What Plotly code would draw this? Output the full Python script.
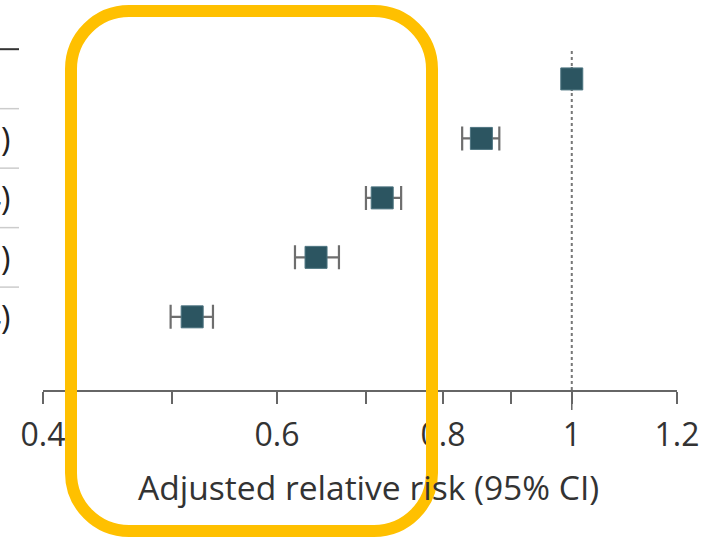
import math
import plotly.graph_objects as go

# ---- data ----
rows = [0, 1, 2, 3, 4]
rr = [1.0, 0.855, 0.72, 0.642, 0.518]
ci_low = [None, 0.827, 0.700, 0.619, 0.499]
ci_high = [None, 0.882, 0.744, 0.668, 0.537]
tick_vals = [0.4, 0.5, 0.6, 0.7, 0.8, 0.9, 1.0, 1.2]
tick_text = ["0.4", "", "0.6", "", "0.8", "", "1", "1.2"]
x_title = "Adjusted relative risk (95% CI)"

FONT = "Open Sans"
W, H = 705, 540
# plot area in page pixels
PL, PR, PT, PB = 43, 677, 48, 390
L, T, R, B = PL, PT, W - PR, H - PB
PW, PH = PR - PL, PB - PT

def px(xp):
    return (xp - PL) / PW

def py(yp):
    return (PB - yp) / PH

err_plus = [0 if lo is None else hi - v for v, lo, hi in zip(rr, ci_low, ci_high)]
err_minus = [0 if lo is None else v - lo for v, lo, hi in zip(rr, ci_low, ci_high)]
labels = []
for v, lo, hi in zip(rr, ci_low, ci_high):
    if lo is None:
        labels.append("1 [Reference]")
    else:
        labels.append(f"{v:.2f} ({lo:.2f}-{hi:.2f})")

fig = go.Figure()
fig.add_trace(go.Scatter(
    x=rr, y=rows, mode="markers",
    marker=dict(symbol="square", size=22, color="#2c5561",
                line=dict(color="#4d7480", width=1)),
    error_x=dict(type="data", symmetric=False, array=err_plus, arrayminus=err_minus,
                 color="#6e6e6e", thickness=2.2, width=12),
    hoverinfo="skip", showlegend=False, cliponaxis=False,
))

shapes = []
shapes.append(dict(type="line", xref="x", yref="paper", x0=1, x1=1, y0=0, y1=1,
                   line=dict(color="#777777", width=2, dash="dot"), layer="below"))
shapes.append(dict(type="line", xref="x", yref="paper", x0=1, x1=1, y0=0, y1=py(410),
                   line=dict(color="#666666", width=1.5)))
shapes.append(dict(type="line", xref="paper", yref="y", x0=px(-5), x1=px(19), y0=-0.5, y1=-0.5,
                   line=dict(color="#333333", width=2)))
for r in rows[:-1]:
    shapes.append(dict(type="line", xref="paper", yref="y", x0=px(-5), x1=px(19),
                       y0=r + 0.5, y1=r + 0.5, line=dict(color="#cccccc", width=1.5)))

# yellow rounded highlight box
x0, x1, y0, y1, rad = 71, 432, 11, 531, 58
k = 0.5523 * rad
def P(a, b):
    return f"{px(a):.5f},{py(b):.5f}"
path = (
    f"M {P(x0 + rad, y0)} L {P(x1 - rad, y0)} "
    f"C {P(x1 - rad + k, y0)} {P(x1, y0 + rad - k)} {P(x1, y0 + rad)} "
    f"L {P(x1, y1 - rad)} "
    f"C {P(x1, y1 - rad + k)} {P(x1 - rad + k, y1)} {P(x1 - rad, y1)} "
    f"L {P(x0 + rad, y1)} "
    f"C {P(x0 + rad - k, y1)} {P(x0, y1 - rad + k)} {P(x0, y1 - rad)} "
    f"L {P(x0, y0 + rad)} "
    f"C {P(x0, y0 + rad - k)} {P(x0 + rad - k, y0)} {P(x0 + rad, y0)} Z"
)
shapes.append(dict(type="path", xref="paper", yref="paper", path=path,
                   line=dict(color="#ffc000", width=12), fillcolor="rgba(0,0,0,0)", layer="above"))

annotations = []
for r, lab in zip(rows, labels):
    if r == 0:
        continue
    annotations.append(dict(x=px(11.5), y=r, xref="paper", yref="y", text=lab, showarrow=False,
                            xanchor="right", yanchor="middle",
                            font=dict(family=FONT, size=32, color="#222222")))
annotations.append(dict(x=px(368), y=py(487), xref="paper", yref="paper", text=x_title,
                        showarrow=False, xanchor="center", yanchor="middle",
                        font=dict(family=FONT, size=33.6, color="#333333")))

fig.update_layout(
    template="none",
    width=W, height=H, margin=dict(l=L, r=R, t=T, b=B, pad=0, autoexpand=False),
    paper_bgcolor="white", plot_bgcolor="white",
    xaxis=dict(type="log", range=[math.log10(0.4), math.log10(1.2)], automargin=False,
               tickvals=tick_vals, ticktext=tick_text, ticks="outside", ticklen=12,
               tickwidth=1.5, tickcolor="#666666", showline=True, linecolor="#666666",
               linewidth=1.5, showgrid=False, zeroline=False, ticklabelstandoff=4,
               tickfont=dict(family=FONT, size=32, color="#333333")),
    yaxis=dict(range=[5.23, -0.52], visible=False, showgrid=False, zeroline=False,
               automargin=False),
    shapes=shapes, annotations=annotations,
)

fig.write_html("out.html", config={"displayModeBar": False, "staticPlot": True},
               post_script="document.body.style.margin='0';document.body.style.overflow='hidden';")
